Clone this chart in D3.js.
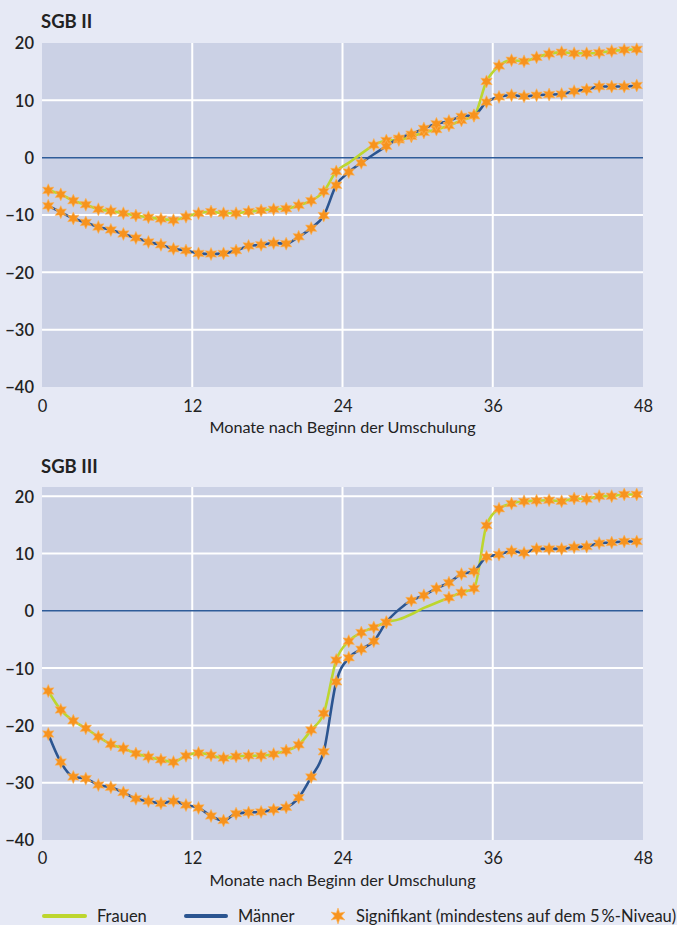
<!DOCTYPE html>
<html>
<head>
<meta charset="utf-8">
<script src="https://cdn.jsdelivr.net/npm/d3@7"></script>
<style>
  html, body { margin: 0; padding: 0; background: #e6e9f5; }
  svg { display: block; font-family: Lato, "Open Sans", sans-serif; }
</style>
</head>
<body>
<svg id="chart" width="677" height="925"></svg>
<script>
// ---------- data ----------
const months = [0.5,1.5,2.5,3.5,4.5,5.5,6.5,7.5,8.5,9.5,10.5,11.5,12.5,13.5,14.5,15.5,16.5,17.5,18.5,19.5,20.5,21.5,22.5,23.5,
                24.5,25.5,26.5,27.5,28.5,29.5,30.5,31.5,32.5,33.5,34.5,35.5,36.5,37.5,38.5,39.5,40.5,41.5,42.5,43.5,44.5,45.5,46.5,47.5];

const sgb2Frauen = [-5.7,-6.4,-7.5,-8.2,-9.0,-9.3,-9.7,-10.1,-10.4,-10.7,-10.9,-10.3,-9.7,-9.4,-9.7,-9.7,-9.4,-9.2,-9.0,-8.9,-8.3,-7.5,-5.9,-2.4,
                    -0.9,0.7,2.2,3.0,3.1,3.7,4.4,4.9,5.6,6.5,7.3,13.3,16.0,17.0,16.8,17.5,18.1,18.4,18.2,18.2,18.3,18.6,18.8,18.9];
const sgb2FrauenSig = [1,1,1,1,1,1,1,1,1,1,1,1,1,1,1,1,1,1,1,1,1,1,1,1, 0,0,1,1,1,1,1,1,1,1,1,1,1,1,1,1,1,1,1,1,1,1,1,1];

const sgb2Maenner = [-8.4,-9.5,-10.6,-11.3,-12.1,-12.6,-13.3,-14.0,-14.7,-15.2,-15.9,-16.2,-16.7,-16.8,-16.7,-16.2,-15.4,-15.2,-14.9,-15.0,-13.8,-12.3,-10.1,-4.8,
                     -2.5,-0.9,0.6,2.0,3.4,4.1,5.1,5.9,6.4,7.2,7.4,9.7,10.6,10.9,10.7,10.9,11.0,11.1,11.6,11.9,12.4,12.4,12.4,12.6];
const sgb2MaennerSig = [1,1,1,1,1,1,1,1,1,1,1,1,1,1,1,1,1,1,1,1,1,1,1,1, 1,1,0,1,1,1,1,1,1,1,1,1,1,1,1,1,1,1,1,1,1,1,1,1];

const sgb3Frauen = [-14.0,-17.3,-19.2,-20.5,-22.0,-23.3,-24.0,-24.9,-25.5,-26.0,-26.4,-25.3,-24.8,-25.2,-25.7,-25.4,-25.3,-25.3,-25.0,-24.4,-23.4,-20.8,-17.9,-8.6,
                    -5.3,-3.8,-2.9,-2.0,-1.5,-0.6,0.5,1.4,2.3,3.2,3.9,14.9,17.8,18.7,19.1,19.2,19.3,19.1,19.6,19.5,20.0,20.0,20.3,20.3];
const sgb3FrauenSig = [1,1,1,1,1,1,1,1,1,1,1,1,1,1,1,1,1,1,1,1,1,1,1,1, 1,1,1,1,0,0,0,0,1,1,1,1,1,1,1,1,1,1,1,1,1,1,1,1];

const sgb3Maenner = [-21.5,-26.4,-29.0,-29.3,-30.4,-30.8,-31.7,-32.8,-33.2,-33.6,-33.2,-33.9,-34.4,-35.8,-36.6,-35.4,-35.2,-35.1,-34.7,-34.3,-32.6,-29.0,-24.6,-12.4,
                     -8.2,-6.7,-5.3,-2.0,0.2,1.8,2.7,3.9,4.9,6.4,6.9,9.4,9.8,10.4,10.1,10.8,10.8,10.8,11.1,11.2,11.8,11.9,12.1,12.1];
const sgb3MaennerSig = [1,1,1,1,1,1,1,1,1,1,1,1,1,1,1,1,1,1,1,1,1,1,1,1, 1,1,1,1,0,1,1,1,1,1,1,1,1,1,1,1,1,1,1,1,1,1,1,1];

const xTicks = [0, 12, 24, 36, 48];
const yTicks = [-40, -30, -20, -10, 0, 10, 20];
const titles = ["SGB II", "SGB III"];
const xAxisTitle = "Monate nach Beginn der Umschulung";
const legendLabels = ["Frauen", "Männer", "Signifikant (mindestens auf dem 5\u2009%-Niveau)"];

// ---------- styling ----------
const C = {
  plotBg: "#cbd1e5",
  grid: "#ffffff",
  zero: "#2f5c99",
  frauen: "#bdd62e",
  maenner: "#2b5591",
  star: "#f7931e",
  starEdge: "#fbb35a",
  text: "#222222"
};

const svg = d3.select("#chart");

function starPath(cx, cy, R, r) {
  const p = d3.path();
  for (let i = 0; i < 12; i++) {
    const a = -Math.PI / 2 + i * Math.PI / 6;
    const rad = i % 2 === 0 ? R : r;
    const px = cx + rad * Math.cos(a), py = cy + rad * Math.sin(a);
    if (i === 0) p.moveTo(px, py); else p.lineTo(px, py);
  }
  p.closePath();
  return p.toString();
}

function drawPanel(cfg) {
  const g = svg.append("g");
  const x = d3.scaleLinear().domain([0, 48]).range([42, 643]);
  const y = d3.scaleLinear().domain(cfg.yDomain).range([cfg.bottom, cfg.top]);

  g.append("rect")
    .attr("x", x(0)).attr("y", cfg.top)
    .attr("width", x(48) - x(0)).attr("height", cfg.bottom - cfg.top)
    .attr("fill", C.plotBg);

  g.selectAll("line.hg")
    .data(yTicks.filter(t => t !== 0 && t !== -40 && y(t) > cfg.top + 1))
    .join("line").attr("class", "hg")
    .attr("x1", x(0)).attr("x2", x(48))
    .attr("y1", d => y(d)).attr("y2", d => y(d))
    .attr("stroke", C.grid).attr("stroke-width", 2);

  g.selectAll("line.vg")
    .data(xTicks.filter(t => t > 0 && t < 48))
    .join("line").attr("class", "vg")
    .attr("x1", d => x(d)).attr("x2", d => x(d))
    .attr("y1", cfg.top).attr("y2", cfg.bottom)
    .attr("stroke", C.grid).attr("stroke-width", 2);

  g.append("line")
    .attr("x1", x(0)).attr("x2", x(48))
    .attr("y1", y(0)).attr("y2", y(0))
    .attr("stroke", C.zero).attr("stroke-width", 1.5);

  const ya = d3.axisLeft(y).tickValues(yTicks).tickSize(0).tickPadding(8);
  const yg = g.append("g").attr("transform", `translate(${x(0)},0)`).call(ya);
  yg.select(".domain").remove();
  yg.selectAll("text").attr("font-size", 16.5).attr("font-weight", 600)
    .attr("fill", C.text).attr("font-family", "Lato, sans-serif").attr("dy", "0.36em");

  const xa = d3.axisBottom(x).tickValues(xTicks).tickSize(0).tickPadding(0);
  const xg = g.append("g").attr("transform", `translate(0,${cfg.bottom})`).call(xa);
  xg.select(".domain").remove();
  xg.selectAll("text").attr("font-size", 16.5).attr("fill", C.text)
    .attr("font-family", "Lato, sans-serif").attr("dy", null).attr("y", cfg.xLabelOffset);

  g.append("text")
    .attr("x", (x(0) + x(48)) / 2).attr("y", cfg.bottom + cfg.xTitleOffset)
    .attr("text-anchor", "middle").attr("font-size", 16.2).attr("fill", C.text)
    .text(xAxisTitle);

  g.append("text")
    .attr("x", 41).attr("y", cfg.titleY)
    .attr("font-size", 18.5).attr("font-weight", 700).attr("fill", C.text)
    .text(cfg.title);

  const line = d3.line()
    .x((d, i) => x(months[i]))
    .y(d => y(d))
    .curve(d3.curveMonotoneX);

  const series = [
    { values: cfg.frauen, sig: cfg.frauenSig, color: C.frauen },
    { values: cfg.maenner, sig: cfg.maennerSig, color: C.maenner }
  ];

  series.forEach(s => {
    g.append("path")
      .datum(s.values)
      .attr("d", line)
      .attr("fill", "none")
      .attr("stroke", s.color)
      .attr("stroke-width", 2.6)
      .attr("stroke-linejoin", "round");
  });

  series.forEach(s => {
    const pts = s.values.map((v, i) => ({ m: months[i], v, sig: s.sig[i] })).filter(d => d.sig);
    g.selectAll(null).data(pts).join("path")
      .attr("d", d => starPath(x(d.m), y(d.v), 6.5, 3.3))
      .attr("fill", C.star)
      .attr("stroke", C.starEdge)
      .attr("stroke-width", 0.6);
  });
}

drawPanel({
  title: titles[0], titleY: 28,
  top: 43, bottom: 387, yDomain: [-40, 20],
  xLabelOffset: 25, xTitleOffset: 46,
  frauen: sgb2Frauen, frauenSig: sgb2FrauenSig,
  maenner: sgb2Maenner, maennerSig: sgb2MaennerSig
});

drawPanel({
  title: titles[1], titleY: 473,
  top: 487, bottom: 840, yDomain: [-40, 21.6],
  xLabelOffset: 24, xTitleOffset: 46,
  frauen: sgb3Frauen, frauenSig: sgb3FrauenSig,
  maenner: sgb3Maenner, maennerSig: sgb3MaennerSig
});

// ---------- legend ----------
const lg = svg.append("g");
const ly = 916;
lg.append("line").attr("x1", 44).attr("x2", 85).attr("y1", ly).attr("y2", ly)
  .attr("stroke", C.frauen).attr("stroke-width", 4).attr("stroke-linecap", "round");
lg.append("text").attr("x", 97).attr("y", ly + 5.5).attr("font-size", 16.5).attr("fill", C.text).text(legendLabels[0]);
lg.append("line").attr("x1", 186).attr("x2", 226).attr("y1", ly).attr("y2", ly)
  .attr("stroke", C.maenner).attr("stroke-width", 4).attr("stroke-linecap", "round");
lg.append("text").attr("x", 238).attr("y", ly + 5.5).attr("font-size", 16.5).attr("fill", C.text).text(legendLabels[1]);
lg.append("path").attr("d", starPath(338, ly, 8, 3.4)).attr("fill", C.star).attr("stroke", C.starEdge).attr("stroke-width", 0.6);
lg.append("text").attr("x", 356).attr("y", ly + 5.5).attr("font-size", 16.5).attr("fill", C.text).text(legendLabels[2]);
</script>
</body>
</html>
